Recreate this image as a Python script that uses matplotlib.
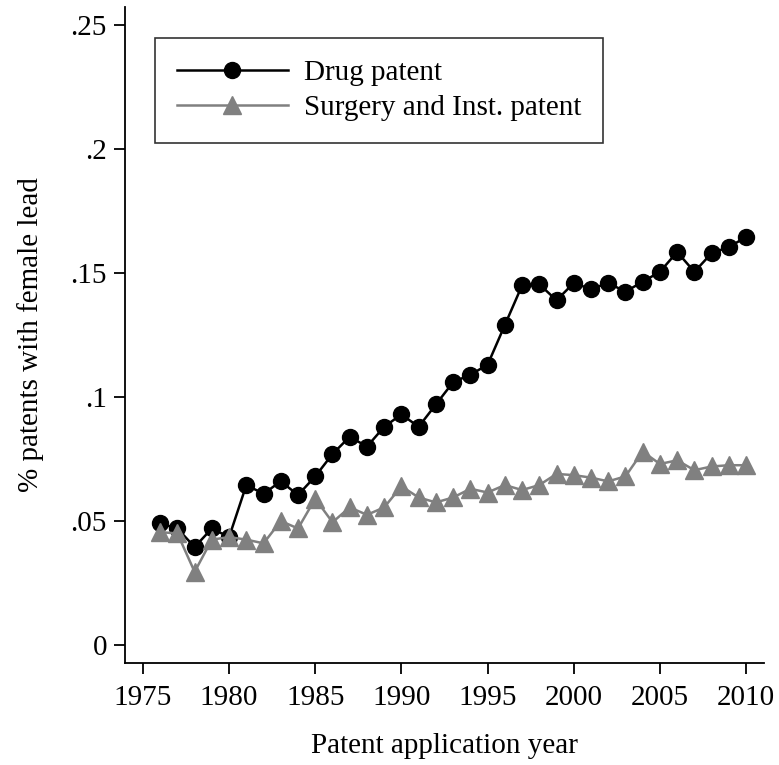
import matplotlib
matplotlib.use("Agg")
import matplotlib.pyplot as plt

# share of patents with a female lead inventor, by application year
years = list(range(1976, 2011))
drug = [.049, .047, .0395, .047, .0435, .0645, .061, .066, .0605, .068,
        .077, .084, .080, .088, .093, .088, .097, .106, .109, .113,
        .129, .145, .1455, .139, .146, .1435, .146, .1425, .1465, .1505,
        .1585, .1505, .158, .1605, .1645]
surgery = [.0455, .045, .0295, .0425, .0435, .0425, .041, .050, .047, .059,
           .0495, .0555, .0525, .0555, .064, .0595, .0575, .0595, .063, .0615,
           .0645, .0625, .0645, .069, .0685, .0675, .066, .068, .078, .073,
           .0745, .0705, .072, .0725, .0725]
xticks = [1975, 1980, 1985, 1990, 1995, 2000, 2005, 2010]
yticks = [0, .05, .1, .15, .2, .25]
ylabels = ["0", ".05", ".1", ".15", ".2", ".25"]

plt.rcParams["font.family"] = ["Liberation Serif", "DejaVu Serif"]
FS = 21

W, H = 779, 765
fig = plt.figure(figsize=(W / 100, H / 100), dpi=100)
L, R, T, B = 125, 764, 7, 663
ax = fig.add_axes([L / W, 1 - B / H, (R - L) / W, (B - T) / H])

ax.plot(years, drug, "-o", color="black", lw=1.8, ms=11.5,
        label="Drug patent")
ax.plot(years, surgery, "-^", color="#808080", lw=1.8, ms=13,
        label="Surgery and Inst. patent")

ax.set_xlim(1973.96, 2011.04)
ax.set_ylim(-0.00726, 0.2573)
ax.set_xticks(xticks)
ax.set_yticks(yticks)
ax.set_yticklabels(ylabels)
ax.tick_params(direction="out", length=8, width=1.3, labelsize=FS)
ax.tick_params(axis="x", pad=8)
ax.tick_params(axis="y", pad=5)
for s in ("top", "right"):
    ax.spines[s].set_visible(False)
for s in ("left", "bottom"):
    ax.spines[s].set_linewidth(1.3)

ax.set_xlabel("Patent application year", fontsize=FS, labelpad=16)
ax.set_ylabel("% patents with female lead", fontsize=FS, labelpad=19)

leg = ax.legend(loc="upper left", bbox_to_anchor=(0.047, 0.9527),
                borderaxespad=0, fontsize=FS, frameon=True, fancybox=False,
                handlelength=3.8, handletextpad=0.55, borderpad=0.75,
                labelspacing=0.3)
leg.get_frame().set_edgecolor("black")
leg.get_frame().set_linewidth(1.2)

fig.savefig("out.png", dpi=100)
